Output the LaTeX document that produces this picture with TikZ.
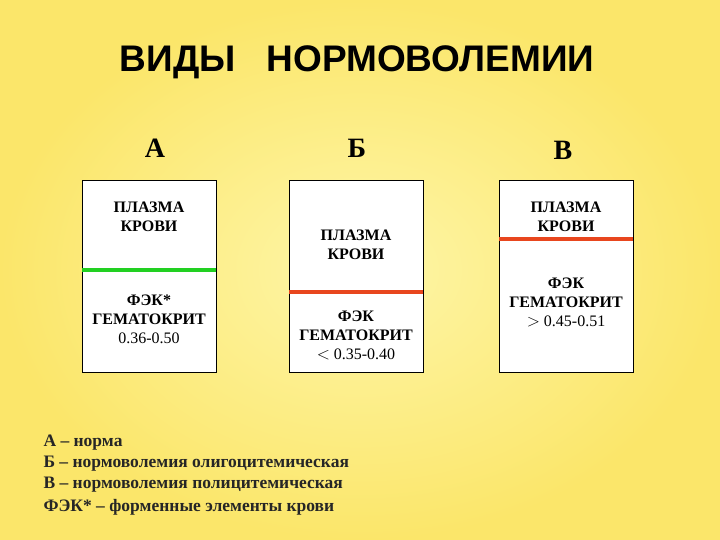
\documentclass[tikz,border=0pt]{standalone}
\usepackage{fontspec}
\setmainfont{Liberation Serif}
\newfontfamily\arialf{Liberation Sans}
\definecolor{bgy}{HTML}{FBE66A}
\definecolor{bgl}{HTML}{FEF6A8}
\definecolor{gline}{HTML}{22D022}
\definecolor{rline}{HTML}{E8461E}
\begin{document}
\begin{tikzpicture}[x=1pt,y=-1pt,
  box/.style={draw=black,fill=white,line width=0.6pt},
  bt/.style={font=\bfseries\fontsize{16}{19}\selectfont,align=center},
  letter/.style={font=\bfseries\fontsize{28}{30}\selectfont},
  leg/.style={font=\bfseries\fontsize{17.5}{19}\selectfont,anchor=west,text=black!85}]
\useasboundingbox (0,0) rectangle (720,540);
\shade[inner color=bgl,outer color=bgy] (0,0) rectangle (720,540);
\node[font=\arialf\bfseries\fontsize{37}{40}\selectfont] (title) at (357,62) {ВИДЫ\ \ \ НОРМОВОЛЕМИИ};
\node[letter] (la) at (155,148) {А};
\node[letter] (lb) at (357,148) {Б};
\node[letter] (lv) at (563,150) {В};
\draw[box] (82,180) rectangle (216,372);
\draw[box] (289,180) rectangle (423,372);
\draw[box] (499,180) rectangle (633,372);
\draw[gline,line width=4pt] (82,270) -- (216,270);
\draw[rline,line width=4pt] (289,292) -- (423,292);
\draw[rline,line width=4pt] (499,239) -- (633,239);
\node[bt] (a1) at (149,217) {ПЛАЗМА\\КРОВИ};
\node[bt] (a2) at (149,319) {ФЭК*\\ГЕМАТОКРИТ\\{\mdseries 0.36-0.50}};
\node[bt] (b1) at (356,245) {ПЛАЗМА\\КРОВИ};
\node[bt] (b2) at (356,335) {ФЭК\\ГЕМАТОКРИТ\\{\mdseries $<$ 0.35-0.40}};
\node[bt] (v1) at (566,217) {ПЛАЗМА\\КРОВИ};
\node[bt] (v2) at (566,302) {ФЭК\\ГЕМАТОКРИТ\\{\mdseries $>$ 0.45-0.51}};
\node[leg] (g1) at (40,443) {А – норма};
\node[leg] (g2) at (40,464) {Б – нормоволемия олигоцитемическая};
\node[leg] (g3) at (40,485) {В – нормоволемия полицитемическая};
\node[leg] (g4) at (40,507) {ФЭК* – форменные элементы крови};
\end{tikzpicture}
\end{document}
